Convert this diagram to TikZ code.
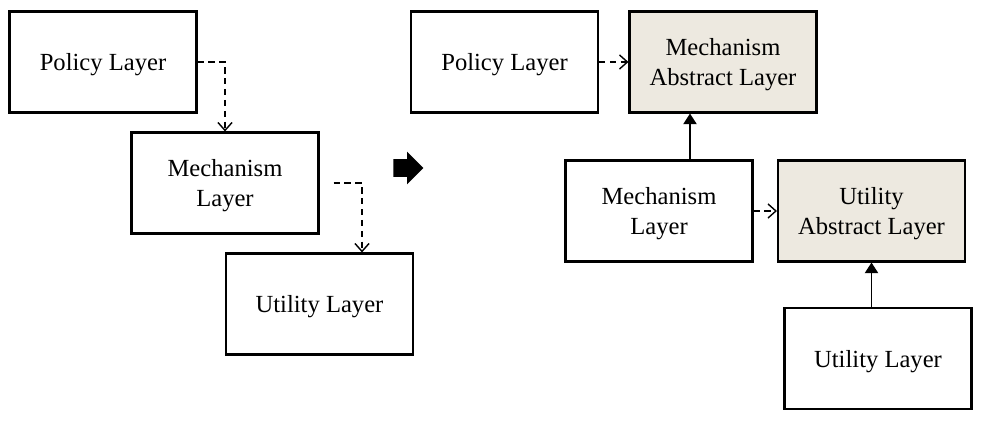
\documentclass[tikz,border=0pt]{standalone}
\usepackage{fontspec}
\setmainfont{Liberation Serif}
\usepackage{tikz}
\usepackage{xcolor}
\usetikzlibrary{arrows.meta,shapes.arrows}
\definecolor{absfill}{HTML}{EDE9E0}

\begin{document}
\begin{tikzpicture}[x=0.02cm,y=-0.02cm,
  every node/.style={font=\fontsize{14}{17}\selectfont},
  layer/.style={draw,line width=1.2pt,align=center,minimum width=3.74cm,minimum height=2.02cm,inner sep=0pt,text depth=0pt},
  absl/.style={layer,fill=absfill},
  dasharr/.style={dash pattern=on 3.6pt off 2.6pt,line width=0.8pt,-{Straight Barb[length=4.5pt,width=8pt]}},
  solarr/.style={line width=0.8pt,-{Triangle[length=6pt,width=7.5pt]}}]
\useasboundingbox (0,0) rectangle (987,421);
% before
\node[layer] (polL) at (103,62) {Policy Layer};
\node[layer] (mechL) at (225,183) {Mechanism\\Layer};
\node[layer] (utilL) at (319.5,304) {Utility Layer};
\draw[dasharr] (polL.east) -| (mechL.north);
\draw[dasharr] ([xshift=0.28cm]mechL.east) -| ([xshift=0.85cm]utilL.north);
% transition
\node[single arrow,fill=black,inner sep=0.17cm,minimum height=0.6cm,minimum width=0.64cm,
  single arrow head extend=0.15cm,single arrow head indent=0pt] (go) at (404,168) {};
% after
\node[layer] (polR) at (504.5,62) {Policy Layer};
\node[absl] (mechAbs) at (723,62) {Mechanism\\Abstract Layer};
\node[layer] (mechR) at (659,211) {Mechanism\\Layer};
\node[absl] (utilAbs) at (871.5,211) {Utility\\Abstract Layer};
\node[layer] (utilR) at (878,358.5) {Utility Layer};
\draw[dasharr] (polR.east) -- (mechAbs.west);
\draw[dasharr] (mechR.east) -- (utilAbs.west);
\draw[solarr] ([xshift=0.62cm]mechR.north) -- ([xshift=0.62cm]mechR.north |- mechAbs.south);
\draw[solarr] (utilR.north -| utilAbs.south) -- (utilAbs.south);
\end{tikzpicture}
\end{document}
